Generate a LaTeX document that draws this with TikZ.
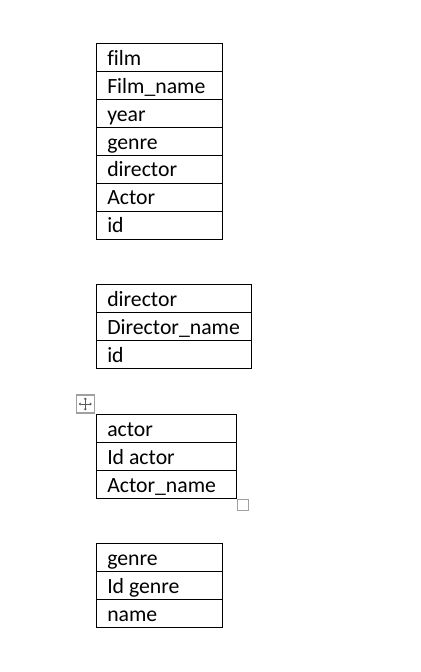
\documentclass[tikz,border=0pt]{standalone}
\usepackage{fontspec}
\setmainfont{Carlito}[Ligatures=NoCommon]
\usetikzlibrary{calc,arrows.meta}
\definecolor{handle}{RGB}{160,160,160}
\definecolor{handleicon}{RGB}{90,90,90}
\tikzset{
  cell/.style={draw=black, line width=0.8pt, rectangle, inner sep=0pt, anchor=north west, minimum height=20.9pt},
  celltxt/.style={anchor=base west, inner sep=0pt, font=\fontsize{16.3pt}{20pt}\selectfont, text=black},
  handlebox/.style={draw=handle, line width=0.8pt, fill=white},
  movearrow/.style={draw=handleicon, line width=0.5pt, -{Triangle[length=1.4pt, width=2.2pt]}}
}
% \tablerows{prefix}{x left}{y top}{width px}{list}
\newcommand{\tablerows}[5]{%
  \pgfmathsetmacro{\cw}{#4*0.75}%
  \foreach \t [count=\i] in {#5} {%
    \node[cell, minimum width=\cw pt] (#1\i) at (#2, {#3+(\i-1)*27.9}) {};
    \node[celltxt] (#1\i t) at ($(#1\i.north west)+(11.5,22)$) {\t};
  }%
}
\begin{document}
\begin{tikzpicture}[x=0.75pt, y=-0.75pt]
\useasboundingbox (0,0) rectangle (421,672);
\tablerows{film}{95.5}{43.3}{126.2}{film,Film\_name,year,genre,director,Actor,id}
\tablerows{dir}{95.5}{284.3}{155.5}{director,Director\_name,id}
\tablerows{act}{95.5}{414.3}{140.5}{actor,Id actor,Actor\_name}
\tablerows{gen}{95.5}{543.3}{126.7}{genre,Id genre,name}
% move handle
\node[handlebox, minimum width=13.5pt, minimum height=13.5pt, inner sep=0pt] (move) at (85.3,404) {};
\foreach \dx/\dy in {-6.5/0,6.5/0,0/-6.5,0/6.5} {
  \draw[movearrow] (move.center) -- ($(move.center)+(\dx,\dy)$);
}
% resize handle
\node[handlebox, minimum width=8.5pt, minimum height=8.5pt, inner sep=0pt] (resize) at (243,505) {};
\end{tikzpicture}
\end{document}
